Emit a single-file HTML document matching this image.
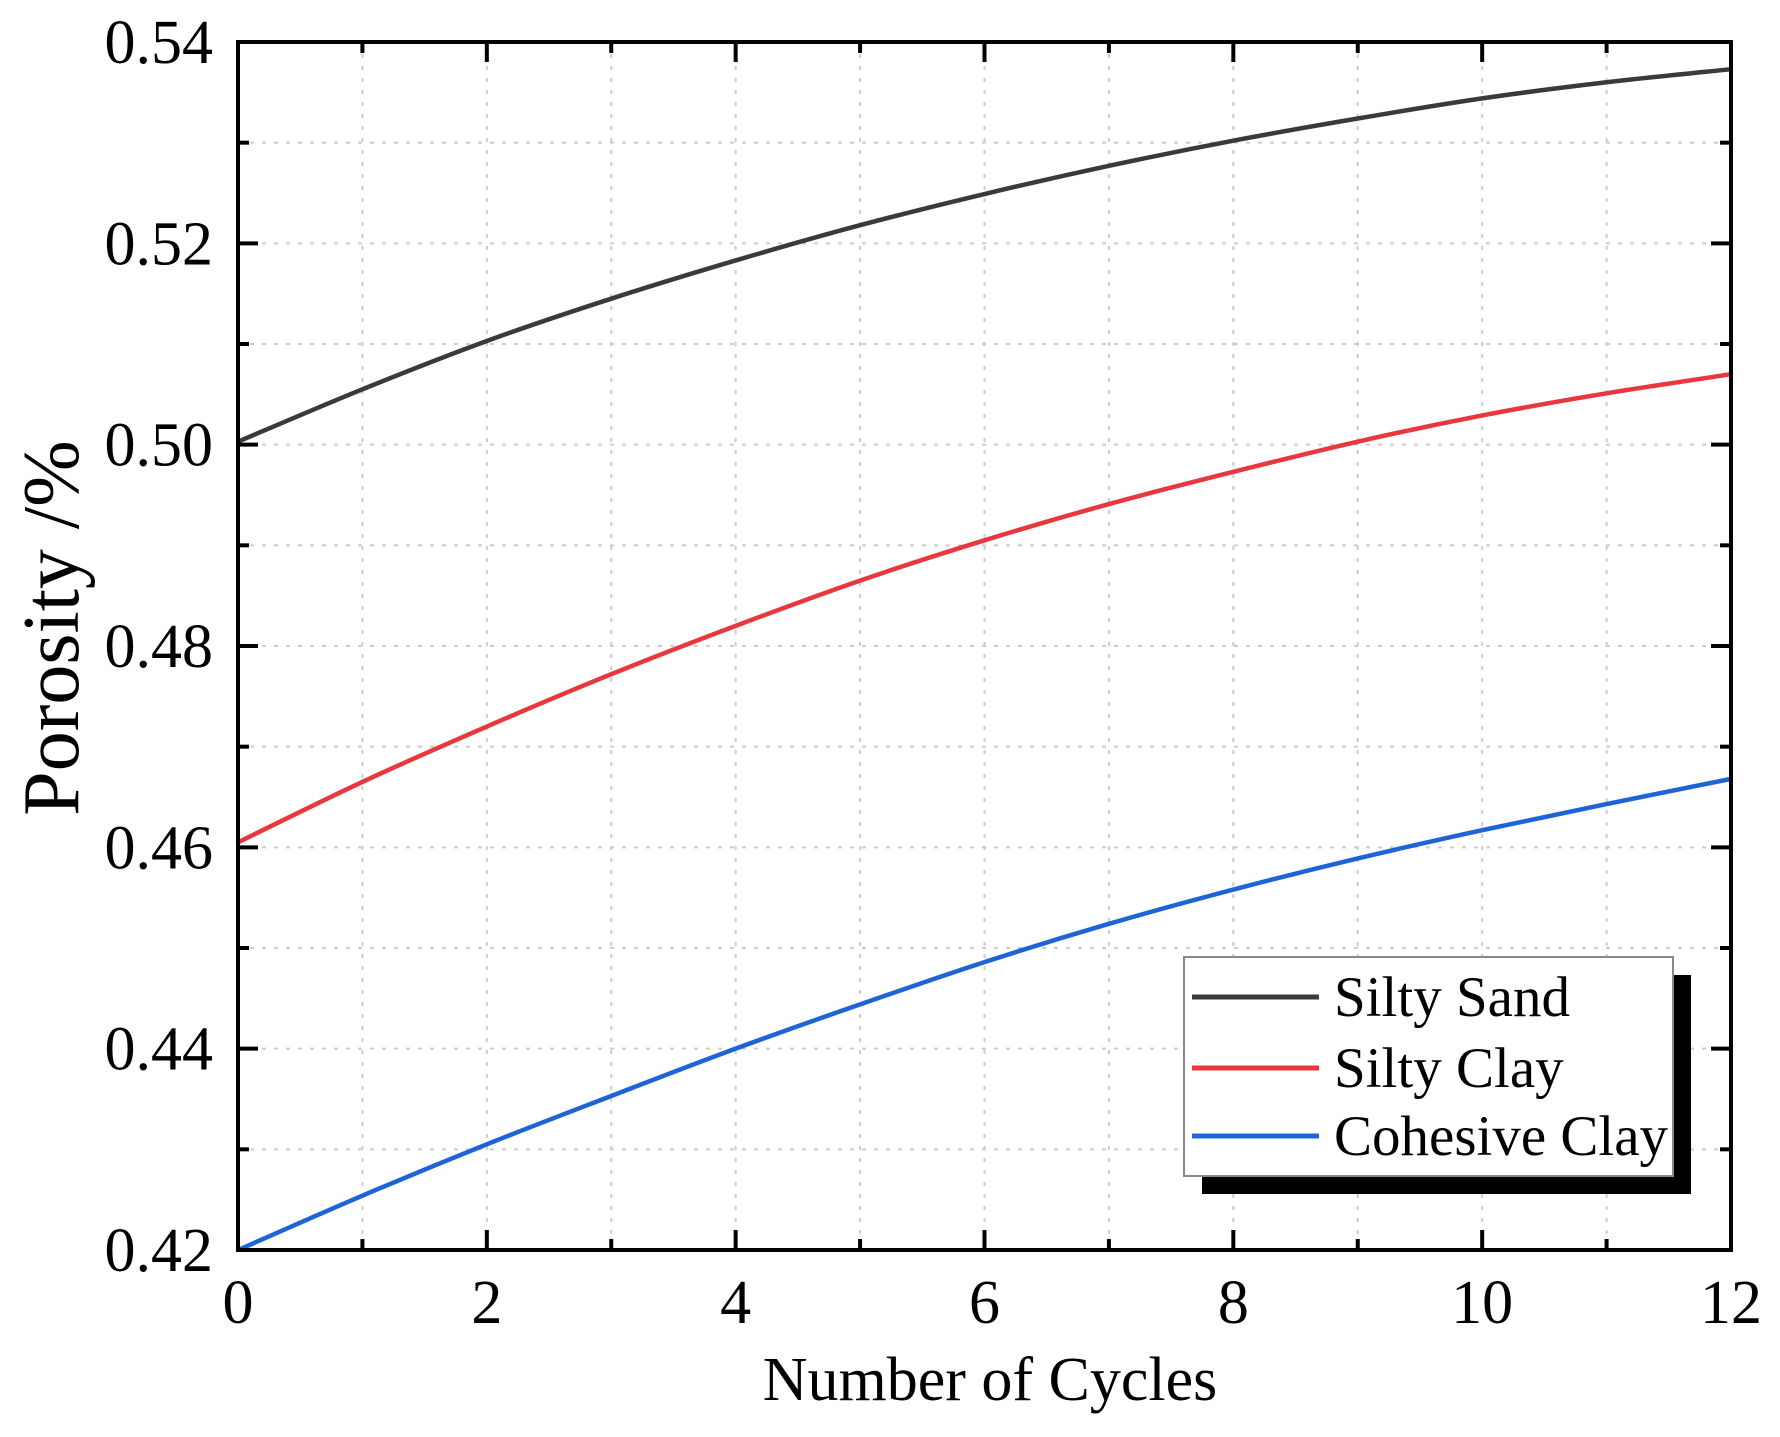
<!DOCTYPE html>
<html><head><meta charset="utf-8"><style>
html,body{margin:0;padding:0;background:#fff;}
svg{display:block;font-family:"Liberation Serif",serif;}
</style></head><body>
<svg id="chart" width="1780" height="1437" viewBox="0 0 1780 1437" xmlns="http://www.w3.org/2000/svg">
<g id="grid"></g>
<g id="series"></g>
<rect x="238" y="42" width="1493" height="1208" fill="none" stroke="#000" stroke-width="4"/>
<g id="ticks"></g>
<text x="990" y="1400" font-size="62" text-anchor="middle">Number of Cycles</text>
<text transform="translate(78,628) rotate(-90)" font-size="80" text-anchor="middle">Porosity /%</text>
<g>
<rect x="1202" y="975" width="489" height="219" fill="#000"/>
<rect x="1184" y="957" width="489" height="219" fill="#fff" stroke="#888" stroke-width="2"/>
<line x1="1192" y1="997" x2="1319" y2="997" stroke="#3a3a3a" stroke-width="5"/>
<text x="1334" y="1016" font-size="57">Silty Sand</text>
<line x1="1192" y1="1068" x2="1319" y2="1068" stroke="#e8383d" stroke-width="5"/>
<text x="1334" y="1087" font-size="57">Silty Clay</text>
<line x1="1192" y1="1136" x2="1319" y2="1136" stroke="#1f64d6" stroke-width="5"/>
<text x="1334" y="1155" font-size="57">Cohesive Clay</text>
</g>
</svg>
<script>
const cycles=[0,1,2,3,4,5,6,7,8,9,10,11,12];
const siltySand=[0.5003,0.5055,0.5103,0.5145,0.5183,0.5218,0.5249,0.5277,0.5302,0.5324,0.5344,0.5360,0.5373];
const siltyClay=[0.4605,0.4665,0.4720,0.4772,0.4820,0.4865,0.4905,0.4941,0.4973,0.5003,0.5029,0.5051,0.5070];
const cohesiveClay=[0.4200,0.4254,0.4305,0.4353,0.4400,0.4444,0.4486,0.4524,0.4558,0.4589,0.4617,0.4643,0.4668];
const xTicks=[0,2,4,6,8,10,12];
const yTicks=[0.42,0.44,0.46,0.48,0.50,0.52,0.54];
const L=238,R=1731,T=42,B=1250,X0=0,X1=12,Y0=0.42,Y1=0.54;
const sx=v=>L+(v-X0)/(X1-X0)*(R-L);
const sy=v=>B-(v-Y0)/(Y1-Y0)*(B-T);
const NS="http://www.w3.org/2000/svg";
function mk(tag,attrs,parent){const e=document.createElementNS(NS,tag);for(const k in attrs)e.setAttribute(k,attrs[k]);parent.appendChild(e);return e;}
const grid=document.getElementById('grid'),ticks=document.getElementById('ticks'),ser=document.getElementById('series');
for(let i=1;i<12;i++){const x=sx(i);
 const g=mk('line',{x1:x,y1:T,x2:x,y2:B,stroke:'#ccc','stroke-width':2,'stroke-dasharray':'4 8'},grid);
 
 }
for(let i=1;i<12;i++){const y=sy(Y0+i*0.01);
 const g=mk('line',{x1:L,y1:y,x2:R,y2:y,stroke:'#ccc','stroke-width':2,'stroke-dasharray':'4 8'},grid);
 
 }
for(let i=0;i<=12;i++){const x=sx(i),len=i%2===0?20:11;
 mk('line',{x1:x,y1:B,x2:x,y2:B-len,stroke:'#000','stroke-width':4},ticks);
 mk('line',{x1:x,y1:T,x2:x,y2:T+len,stroke:'#000','stroke-width':4},ticks);}
for(let i=0;i<=12;i++){const y=sy(Y0+i*0.01),len=i%2===0?20:11;
 mk('line',{x1:L,y1:y,x2:L+len,y2:y,stroke:'#000','stroke-width':4},ticks);
 mk('line',{x1:R,y1:y,x2:R-len,y2:y,stroke:'#000','stroke-width':4},ticks);}
xTicks.forEach(v=>{const t=mk('text',{x:sx(v),y:1323,'font-size':62,'text-anchor':'middle'},ticks);t.textContent=v;
 
 });
yTicks.forEach(v=>{const t=mk('text',{x:213,y:sy(v)+21,'font-size':62,'text-anchor':'end'},ticks);t.textContent=v.toFixed(2);
 
 });
function path(vals){const p=cycles.map((c,i)=>[sx(c),sy(vals[i])]);let d='M'+p[0][0]+','+p[0][1];
 for(let i=0;i<p.length-1;i++){const p0=p[i-1]||p[i],p1=p[i],p2=p[i+1],p3=p[i+2]||p2;
  d+=' C'+(p1[0]+(p2[0]-p0[0])/6)+','+(p1[1]+(p2[1]-p0[1])/6)+' '+(p2[0]-(p3[0]-p1[0])/6)+','+(p2[1]-(p3[1]-p1[1])/6)+' '+p2[0]+','+p2[1];}
 return d;}
[[siltySand,'#3a3a3a','line-silty-sand'],[siltyClay,'#e8383d','line-silty-clay'],[cohesiveClay,'#1f64d6','line-cohesive-clay']].forEach(s=>{
 const e=mk('path',{d:path(s[0]),fill:'none',stroke:s[1],'stroke-width':4.5},ser);
 
 });
</script>
</body></html>
